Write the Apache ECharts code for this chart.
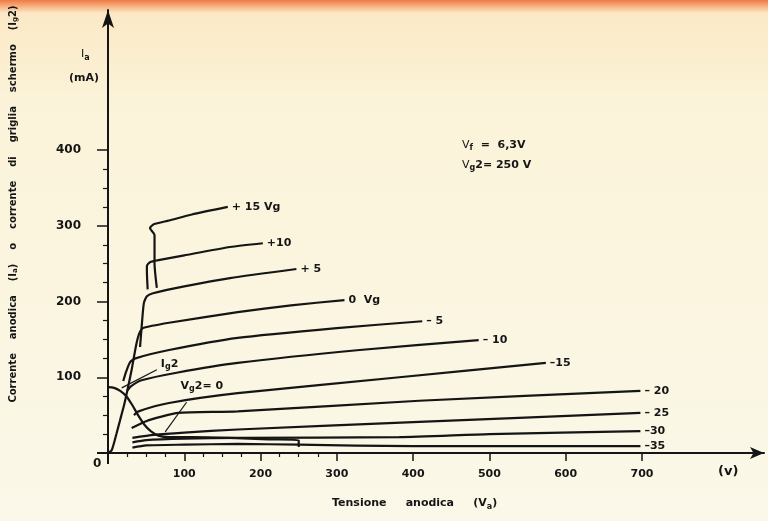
<!DOCTYPE html>
<html>
<head>
<meta charset="utf-8">
<script src="https://cdn.jsdelivr.net/npm/echarts@6/dist/echarts.min.js"></script>
<style>
html, body { margin: 0; padding: 0; }
#chart { width: 768px; height: 521px; }
</style>
</head>
<body>
<div id="chart"></div>
<script>
// tick values
const xTicks = [100, 200, 300, 400, 500, 600, 700]
const xMinor = [25, 50, 75, 125, 150, 175, 225, 250, 275]
const yTicks = [100, 200, 300, 400]
const yMinor = [25, 50, 75, 125, 150, 175, 225, 250, 275, 325, 350, 375]

// anode current curves, [Va (V), Ia (mA)]
const vgP15 = [[64, 218], [61, 250], [61, 288], [55, 297], [60, 302], [80, 307], [110, 315], [157, 325]]
const vgP10 = [[52, 216], [51, 240], [51, 247], [55, 252], [68, 255], [100, 261], [160, 272], [203, 277]]
const vgP5 = [[42, 140], [44, 165], [47, 198], [51, 207], [59, 211], [100, 220], [160, 231], [247, 243]]
const vg0 = [[0, 0], [5, 4], [11, 25], [16, 44], [21, 63], [25, 81], [31, 110], [37, 143], [41, 158], [46, 165], [80, 172], [170, 186], [240, 195], [310, 202]]
const vgM5 = [[20, 95], [24, 108], [29, 120], [36, 125], [80, 136], [170, 152], [300, 165], [412, 174]]
const vgM10 = [[25, 82], [30, 88], [44, 96], [90, 106], [170, 119], [330, 136], [486, 149]]
const vgM15 = [[34, 50], [40, 55], [80, 66], [170, 79], [382, 100], [574, 119]]
const vgM20 = [[31, 33], [50, 42], [70, 48], [92, 53], [170, 55], [408, 69], [698, 82]]
const vgM25 = [[32, 20], [60, 24], [100, 27], [170, 31], [408, 41], [698, 53]]
const vgM30 = [[32, 14], [50, 17], [100, 19], [170, 20], [382, 21], [500, 25], [698, 29]]
const vgM35 = [[32, 7], [50, 10], [100, 11], [170, 12], [250, 11], [400, 9], [698, 9]]
// screen grid current
const ig2 = [[0, 87], [8, 86], [16, 82], [24, 75], [32, 63], [40, 49], [48, 37], [56, 29], [66, 23], [80, 21], [110, 21], [160, 20], [210, 18], [250, 17], [250, 8]]
// leader lines for the annotations
const ig2Leader = [[18, 86], [64, 110]]
const vg2Leader = [[75, 28], [103, 67]]

const ink = '#151515'
const font = 'DejaVu Sans'

const curves = [
  { name: '+ 15 Vg', data: vgP15 },
  { name: '+10', data: vgP10 },
  { name: '+ 5', data: vgP5 },
  { name: '0  Vg', data: vg0 },
  { name: '– 5', data: vgM5 },
  { name: '– 10', data: vgM10 },
  { name: '–15', data: vgM15 },
  { name: '– 20', data: vgM20 },
  { name: '– 25', data: vgM25 },
  { name: '–30', data: vgM30 },
  { name: '–35', data: vgM35 }
]

const rich = {
  n: { fontSize: 11, color: ink, fontFamily: font, fontWeight: 'bold' },
  s: { fontSize: 8, color: ink, fontFamily: font, fontWeight: 'bold', padding: [6, 0, 0, 0] }
}

const series = curves.map((c) => ({
  type: 'line',
  name: c.name,
  data: c.data,
  smooth: 0.2,
  symbol: 'none',
  silent: true,
  lineStyle: { color: ink, width: 2.2 },
  endLabel: {
    show: true,
    formatter: c.name,
    color: ink,
    fontSize: 11,
    fontWeight: 'bold',
    fontFamily: font,
    distance: 4
  }
}))

series.push({
  type: 'line',
  name: 'Ig2',
  data: ig2,
  smooth: 0.25,
  symbol: 'none',
  silent: true,
  lineStyle: { color: ink, width: 2.2 }
})
series.push({
  type: 'line',
  data: ig2Leader,
  symbol: 'none',
  silent: true,
  lineStyle: { color: ink, width: 1.2 },
  endLabel: { show: true, formatter: 'I{s|g}{n|2}', rich: rich, color: ink, fontSize: 11, fontWeight: 'bold', fontFamily: font, offset: [-4, -6] }
})
series.push({
  type: 'line',
  data: vg2Leader,
  symbol: 'none',
  silent: true,
  lineStyle: { color: ink, width: 1.2 },
  endLabel: { show: true, formatter: 'V{s|g}{n|2= 0}', rich: rich, color: ink, fontSize: 11, fontWeight: 'bold', fontFamily: font, offset: [-14, -16] }
})

const valueAxisBase = {
  type: 'value',
  splitLine: { show: false },
  axisLine: { show: false },
  axisLabel: { show: false },
  axisTick: { show: false }
}

const option = {
  animation: false,
  grid: { left: 108, right: 4, top: 10, bottom: 68 },
  graphic: [
    {
      type: 'rect', z: -100, silent: true,
      shape: { x: 0, y: 0, width: 768, height: 521 },
      style: {
        fill: new echarts.graphic.LinearGradient(0, 0, 0, 1, [
          { offset: 0, color: '#ef7a48' },
          { offset: 0.01, color: '#f5a874' },
          { offset: 0.025, color: '#fbe9c6' },
          { offset: 0.2, color: '#fbf3d9' },
          { offset: 1, color: '#fbf8e9' }
        ])
      }
    },
    { type: 'line', silent: true, shape: { x1: 108, y1: 453, x2: 108, y2: 464 }, style: { stroke: ink, lineWidth: 2 } },
    { type: 'line', silent: true, shape: { x1: 97, y1: 453, x2: 108, y2: 453 }, style: { stroke: ink, lineWidth: 2 } },
    { type: 'text', left: 93, top: 458, style: { text: '0', fontSize: 12, fontWeight: 'bold', fontFamily: font, fill: ink } },
    { type: 'text', left: 81, top: 49, style: { text: 'I{s|a}', rich: rich, fontSize: 11, fontFamily: font, fill: ink } },
    { type: 'text', left: 69, top: 73, style: { text: '(mA)', fontSize: 11, fontWeight: 'bold', fontFamily: font, fill: ink } },
    {
      type: 'text', x: 13, y: 204, rotation: Math.PI / 2, silent: true,
      style: {
        text: 'Corrente    anodica    (I{s|a})    o    corrente    di    griglia    schermo    (I{s|g}{n|2})',
        rich: { n: { fontSize: 10, fontFamily: font, fontWeight: 'bold', fill: ink }, s: { fontSize: 7, fontFamily: font, fontWeight: 'bold', fill: ink, padding: [5, 0, 0, 0] } },
        fontSize: 10, fontWeight: 'bold', fontFamily: font, fill: ink, align: 'center', verticalAlign: 'middle'
      }
    },
    { type: 'text', left: 718, top: 465, style: { text: '(v)', fontSize: 13, fontWeight: 'bold', fontFamily: font, fill: ink } },
    {
      type: 'text', left: 332, top: 498,
      style: {
        text: 'Tensione     anodica     (V{s|a})',
        rich: rich, fontSize: 11, fontWeight: 'bold', fontFamily: font, fill: ink
      }
    },
    {
      type: 'text', left: 462, top: 135,
      style: {
        text: 'V{s|f}{n|  =  6,3V}\nV{s|g}{n|2= 250 V}',
        rich: rich, fontSize: 11, lineHeight: 20, fontFamily: font, fill: ink
      }
    }
  ],
  xAxis: [
    {
      ...valueAxisBase,
      min: 0, max: 860,
      axisLine: { show: true, onZero: false, lineStyle: { color: ink, width: 2 }, symbol: ['none', 'arrow'], symbolSize: [9, 14] },
      axisTick: { show: true, customValues: xTicks, inside: false, length: 8, lineStyle: { color: ink, width: 1.5 } },
      axisLabel: { show: true, customValues: xTicks, margin: 16, color: ink, fontSize: 11, fontWeight: 'bold', fontFamily: font }
    },
    {
      ...valueAxisBase,
      min: 0, max: 860,
      axisTick: { show: true, customValues: xMinor, inside: true, length: 4, lineStyle: { color: ink, width: 1.2 } }
    }
  ],
  yAxis: [
    {
      ...valueAxisBase,
      min: 0, max: 585,
      axisLine: { show: true, onZero: false, lineStyle: { color: ink, width: 2 }, symbol: ['none', 'arrow'], symbolSize: [9, 18] },
      axisTick: { show: true, customValues: yTicks, inside: false, length: 11, lineStyle: { color: ink, width: 1.5 } },
      axisLabel: { show: true, customValues: yTicks, margin: 27, color: ink, fontSize: 12, fontWeight: 'bold', fontFamily: font }
    },
    {
      ...valueAxisBase,
      min: 0, max: 585,
      axisTick: { show: true, customValues: yTicks, inside: true, length: 7, lineStyle: { color: ink, width: 1.5 } }
    },
    {
      ...valueAxisBase,
      min: 0, max: 585,
      axisTick: { show: true, customValues: yMinor, inside: true, length: 5, lineStyle: { color: ink, width: 1.2 } }
    }
  ],
  series: series
}

const chart = echarts.init(document.getElementById('chart'))
chart.setOption(option)
</script>
</body>
</html>
